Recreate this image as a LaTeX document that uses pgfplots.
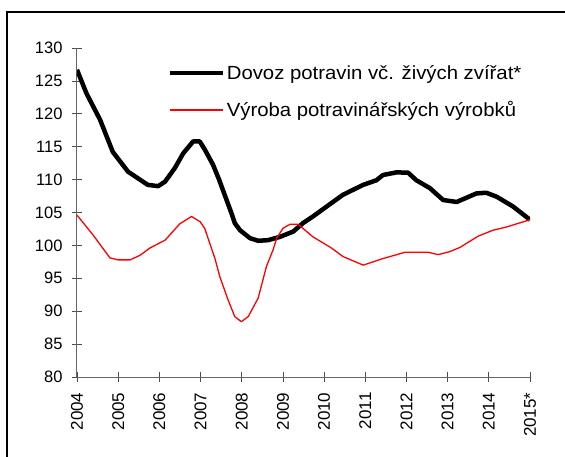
\documentclass[border=0pt]{standalone}
\usepackage{fontspec}
\setmainfont{Liberation Sans}
\newfontfamily\legfont{Liberation Sans}[FakeStretch=1.07]
\usepackage{pgfplots}
\pgfplotsset{compat=1.18}

\begin{document}
\begin{tikzpicture}
\useasboundingbox (-77pt,-79pt) rectangle (488pt,377pt);
\draw[line width=1.5pt] (-70pt,-80pt) -- (-70pt,365pt) -- (490pt,365pt);
\begin{axis}[
  at={(0,0)}, anchor=south west,
  scale only axis,
  width=453pt, height=329pt,
  xmin=2004, xmax=2015,
  ymin=80, ymax=130,
  axis x line=bottom, axis y line=left,
  axis line style={-, draw=black!60, line width=1pt},
  tick style={draw=black!70, line width=0.8pt},
  tick align=center,
  major tick length=10pt,
  xtick={2004,2005,...,2015},
  xticklabels={2004,2005,2006,2007,2008,2009,2010,2011,2012,2013,2014,2015*},
  x tick label style={rotate=90, anchor=east, yshift=0pt, xshift=-7pt, font=\fontsize{17}{20}\selectfont},
  y tick label style={xshift=-6pt, font=\fontsize{16.5}{19}\selectfont},
  ytick={80,85,...,130},
  /pgf/number format/assume math mode=true,
  /pgf/number format/1000 sep={},
  legend style={draw=none, fill=none, at={(0.199,0.955)}, anchor=north west,
    font=\legfont\fontsize{19}{22}\selectfont, row sep=17pt, inner sep=0pt,
    cells={anchor=west}},
  legend cell align=left,
  legend image code/.code={\draw[#1] (0pt,0pt) -- (53pt,0pt);},
]
\addplot[black, line width=4.5pt, line join=round] coordinates {
(2004.0,126.7) (2004.23,123.1) (2004.56,119.1) (2004.87,114.2) (2005.24,111.2)
(2005.72,109.2) (2005.97,109.0) (2006.14,109.7) (2006.38,111.8) (2006.58,114.0)
(2006.82,115.8) (2006.98,115.8) (2007.1,114.6) (2007.3,112.3) (2007.45,110.0)
(2007.75,104.9) (2007.83,103.4) (2007.96,102.3) (2008.2,101.1) (2008.4,100.7)
(2008.64,100.8) (2008.93,101.3) (2009.25,102.1) (2009.49,103.4) (2009.73,104.4)
(2010.06,105.9) (2010.46,107.7) (2010.95,109.2) (2011.27,109.9) (2011.43,110.7)
(2011.76,111.1) (2012.04,111.05) (2012.24,109.9) (2012.57,108.7) (2012.89,106.9)
(2013.22,106.6) (2013.7,107.9) (2013.94,108.0) (2014.19,107.4) (2014.59,105.9)
(2015.0,103.9)
};
\addlegendentry{Dovoz potravin vč. živých zvířat*}
\addplot[red, line width=1.3pt, line join=round] coordinates {
(2004.0,104.6) (2004.4,101.5) (2004.8,98.1) (2005.0,97.8) (2005.29,97.8)
(2005.53,98.5) (2005.77,99.6) (2006.14,100.8) (2006.5,103.3) (2006.78,104.4)
(2006.99,103.6) (2007.1,102.6) (2007.35,98.0) (2007.47,95.2) (2007.67,91.7)
(2007.83,89.2) (2007.99,88.4) (2008.16,89.2) (2008.4,92.0) (2008.6,96.8)
(2008.76,99.3) (2008.85,101.1) (2009.0,102.6) (2009.17,103.2) (2009.37,103.2)
(2009.73,101.3) (2010.18,99.6) (2010.46,98.3) (2010.95,97.0) (2011.43,98.0)
(2011.96,98.95) (2012.53,98.95) (2012.77,98.6) (2013.05,99.05) (2013.3,99.7)
(2013.74,101.4) (2014.1,102.3) (2014.43,102.8) (2015.0,103.9)
};
\addlegendentry{Výroba potravinářských výrobků}
\end{axis}
\end{tikzpicture}
\end{document}
